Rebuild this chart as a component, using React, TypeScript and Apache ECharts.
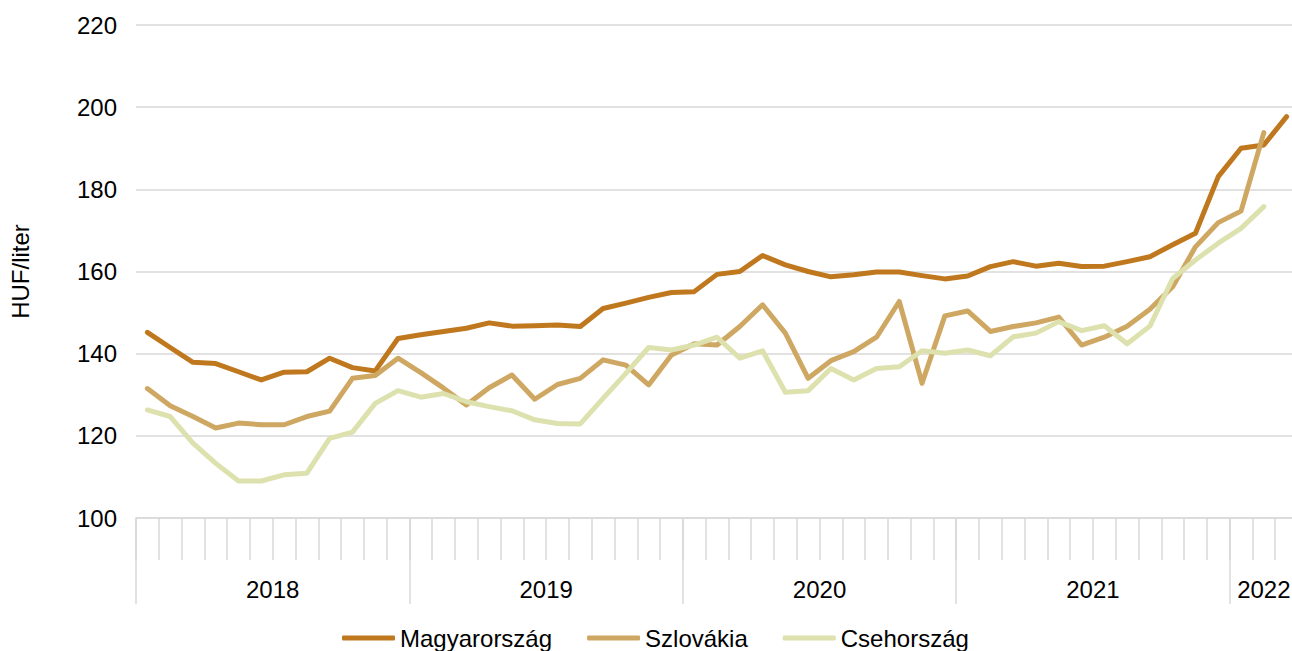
import React, { useEffect, useRef } from 'react';
import * as echarts from 'echarts';

const months = [
  '2018-01','2018-02','2018-03','2018-04','2018-05','2018-06','2018-07','2018-08','2018-09','2018-10','2018-11','2018-12',
  '2019-01','2019-02','2019-03','2019-04','2019-05','2019-06','2019-07','2019-08','2019-09','2019-10','2019-11','2019-12',
  '2020-01','2020-02','2020-03','2020-04','2020-05','2020-06','2020-07','2020-08','2020-09','2020-10','2020-11','2020-12',
  '2021-01','2021-02','2021-03','2021-04','2021-05','2021-06','2021-07','2021-08','2021-09','2021-10','2021-11','2021-12',
  '2022-01','2022-02','2022-03',
];
const yearLabels = ['2018', '2019', '2020', '2021', '2022'];
const seriesNames = ['Magyarország', 'Szlovákia', 'Csehország'];

const hungary = [
  145.2, 141.5, 137.9, 137.6, 135.6, 133.6, 135.5, 135.6, 138.9, 136.6, 135.8, 143.7,
  144.6, 145.4, 146.2, 147.5, 146.7, 146.8, 147.0, 146.6, 151.0, 152.3, 153.7, 154.9,
  155.1, 159.3, 160.0, 163.9, 161.6, 160.0, 158.7, 159.2, 159.9, 159.9, 159.0, 158.2,
  158.9, 161.2, 162.4, 161.3, 162.0, 161.2, 161.3, 162.4, 163.6, 166.5, 169.3, 183.1,
  190.0, 190.8, 197.7,
];
const slovakia = [
  131.5, 127.3, 124.7, 121.9, 123.1, 122.7, 122.7, 124.7, 126.0, 134.0, 134.7, 138.9,
  135.4, 131.6, 127.5, 131.7, 134.8, 128.9, 132.5, 134.0, 138.5, 137.2, 132.4, 139.7,
  142.4, 142.1, 146.6, 151.9, 145.0, 134.0, 138.3, 140.5, 144.0, 152.7, 132.8, 149.2,
  150.4, 145.4, 146.6, 147.5, 148.9, 142.1, 144.0, 146.7, 150.8, 156.3, 166.0, 171.9,
  174.7, 193.8,
];
const czech = [
  126.3, 124.7, 118.2, 113.3, 109.0, 109.0, 110.5, 110.9, 119.4, 120.9, 127.9, 131.0,
  129.4, 130.3, 128.3, 127.1, 126.1, 123.9, 123.0, 122.9, 129.1, 135.2, 141.5, 140.9,
  142.1, 144.0, 138.9, 140.7, 130.6, 131.0, 136.4, 133.6, 136.4, 136.8, 140.7, 140.1,
  140.9, 139.5, 144.1, 145.0, 147.8, 145.6, 146.8, 142.4, 146.7, 158.3, 162.8, 166.9,
  170.5, 175.8,
];

const colors = ['#C0781E', '#CEA862', '#DDE1AE'];
const FONT = "'Liberation Sans', Arial, sans-serif";
const GRID_COLOR = '#d9d9d9';

export default function App() {
  const ref = useRef<HTMLDivElement>(null);
  useEffect(() => {
    if (!ref.current) return;
    const chart = echarts.init(ref.current, undefined, { renderer: 'svg' });
    const n = months.length;
    const centers = yearLabels.map((_, k) => (12 * k + Math.min(12 * k + 12, n)) / 2);
    chart.setOption({
      animation: false,
      backgroundColor: '#fff',
      grid: { left: 136, right: 0, top: 25, bottom: 133, containLabel: false },
      legend: {
        left: 337,
        top: 621,
        icon: 'roundRect',
        itemWidth: 53,
        itemHeight: 5,
        itemGap: 35,
        textStyle: { fontFamily: FONT, fontSize: 24, color: '#000' },
        data: seriesNames,
      },
      xAxis: [
        {
          type: 'category',
          data: months,
          boundaryGap: true,
          position: 'bottom',
          axisLine: { show: true, onZero: false, lineStyle: { color: GRID_COLOR, width: 1.5 } },
          axisTick: { show: true, interval: 0, length: 42, lineStyle: { color: GRID_COLOR, width: 1.5 } },
          axisLabel: { show: false },
          splitLine: { show: false },
        },
        {
          type: 'category',
          data: months,
          boundaryGap: true,
          position: 'bottom',
          axisLine: { show: false, onZero: false },
          axisTick: {
            show: true,
            length: 86,
            interval: (i: number) => i % 12 === 0,
            lineStyle: { color: GRID_COLOR, width: 1.5 },
          },
          axisLabel: { show: false },
          splitLine: { show: false },
        },
        {
          type: 'value',
          min: 0,
          max: n,
          interval: 0.5,
          position: 'bottom',
          axisLine: { show: false, onZero: false },
          axisTick: { show: false },
          splitLine: { show: false },
          axisLabel: {
            show: true,
            margin: 59,
            fontFamily: FONT,
            fontSize: 24,
            color: '#000',
            showMinLabel: true,
            showMaxLabel: true,
            formatter: (v: number) => {
              const k = centers.findIndex((c) => Math.abs(c - v) < 0.01);
              return k >= 0 ? yearLabels[k] : '';
            },
          },
        },
      ],
      yAxis: {
        type: 'value',
        min: 100,
        max: 220,
        interval: 20,
        name: 'HUF/liter',
        nameLocation: 'middle',
        nameGap: 104,
        nameTextStyle: { fontFamily: FONT, fontSize: 24, color: '#000' },
        axisLine: { show: false },
        axisTick: { show: false },
        axisLabel: { margin: 19, fontFamily: FONT, fontSize: 24, color: '#000' },
        splitLine: { show: true, lineStyle: { color: GRID_COLOR, width: 1.5 } },
      },
      series: [hungary, slovakia, czech].map((d, i) => ({
        name: seriesNames[i],
        type: 'line',
        data: d,
        xAxisIndex: 0,
        symbol: 'none',
        smooth: false,
        color: colors[i],
        lineStyle: { width: 5, color: colors[i], join: 'round', cap: 'round' },
      })),
    });
    return () => chart.dispose();
  }, []);
  return (
    <div style={{ position: 'fixed', left: 0, top: 0, width: 1292, height: 651, overflow: 'hidden', background: '#fff' }}>
      <div ref={ref} style={{ width: 1301, height: 651 }} />
    </div>
  );
}
